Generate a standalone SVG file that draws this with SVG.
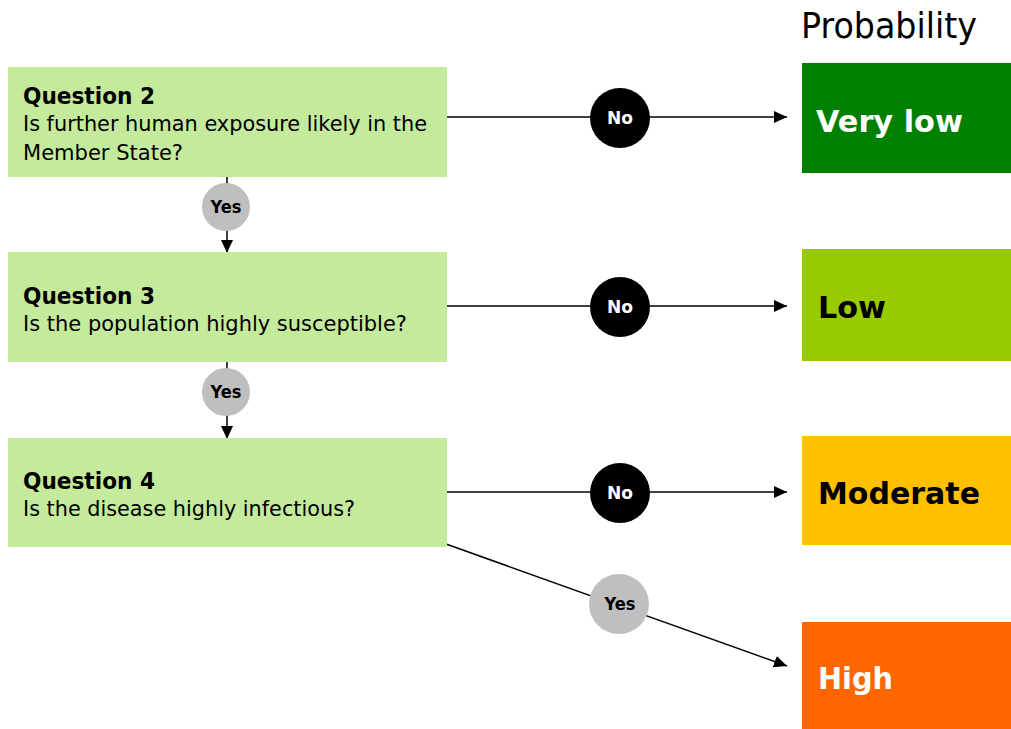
<svg xmlns="http://www.w3.org/2000/svg" width="1011" height="729" viewBox="0 0 1011 729">
<style>
.q{fill:#C4EA9C}
.t{font-family:"DejaVu Sans",Verdana,sans-serif;font-size:22px;fill:#000}
.b{font-family:"DejaVu Sans",Verdana,sans-serif;font-weight:bold;fill:#000}
.out{font-family:"DejaVu Sans",Verdana,sans-serif;font-weight:bold;font-size:31px}
.ln{stroke:#000;stroke-width:1.5;fill:none;marker-end:url(#ah)}
.lbl{font-family:"DejaVu Sans",Verdana,sans-serif;font-weight:bold;font-size:17px;text-anchor:middle}
</style>
<defs>
<marker id="ah" markerUnits="userSpaceOnUse" markerWidth="14" markerHeight="13" refX="13" refY="6" orient="auto">
<path d="M0,0 L13,6 L0,12 z" fill="#000"/>
</marker>
</defs>
<rect width="1011" height="729" fill="#fff"/>
<text x="801" y="38" font-family="'DejaVu Sans',Verdana,sans-serif" font-size="35" fill="#000" textLength="176" lengthAdjust="spacingAndGlyphs">Probability</text>

<g id="connectors">
<line class="ln" x1="446" y1="117" x2="787" y2="117"/>
<line class="ln" x1="446" y1="306" x2="787" y2="306"/>
<line class="ln" x1="446" y1="492" x2="787" y2="492"/>
<line class="ln" x1="227" y1="177" x2="227" y2="253"/>
<line class="ln" x1="227" y1="362" x2="227" y2="439"/>
<line class="ln" x1="446" y1="544" x2="787" y2="666"/>
<g id="no1"><circle cx="620" cy="118" r="30" fill="#000"/><text class="lbl" x="620" y="124" fill="#fff" textLength="26" lengthAdjust="spacingAndGlyphs">No</text></g>
<g id="no2"><circle cx="620" cy="307" r="30" fill="#000"/><text class="lbl" x="620" y="313" fill="#fff" textLength="26" lengthAdjust="spacingAndGlyphs">No</text></g>
<g id="no3"><circle cx="620" cy="493" r="30" fill="#000"/><text class="lbl" x="620" y="499" fill="#fff" textLength="26" lengthAdjust="spacingAndGlyphs">No</text></g>
<g id="yes1"><circle cx="226" cy="207" r="24" fill="#BFBFBF"/><text class="lbl" x="226" y="213" fill="#000" textLength="31" lengthAdjust="spacingAndGlyphs">Yes</text></g>
<g id="yes2"><circle cx="226" cy="392" r="24" fill="#BFBFBF"/><text class="lbl" x="226" y="398" fill="#000" textLength="31" lengthAdjust="spacingAndGlyphs">Yes</text></g>
<g id="yes3"><circle cx="619" cy="604" r="30" fill="#BFBFBF"/><text class="lbl" x="620" y="610" fill="#000" textLength="31" lengthAdjust="spacingAndGlyphs">Yes</text></g>
</g>

<g id="q2">
<rect class="q" x="8" y="67" width="439" height="110"/>
<text class="b" x="23" y="104" font-size="23" textLength="132" lengthAdjust="spacingAndGlyphs">Question 2</text>
<text class="t" x="23" y="131" textLength="404" lengthAdjust="spacingAndGlyphs">Is further human exposure likely in the</text>
<text class="t" x="23" y="160" textLength="160" lengthAdjust="spacingAndGlyphs">Member State?</text>
</g>
<g id="q3">
<rect class="q" x="8" y="252" width="439" height="110"/>
<text class="b" x="23" y="304" font-size="23" textLength="132" lengthAdjust="spacingAndGlyphs">Question 3</text>
<text class="t" x="23" y="331" textLength="384" lengthAdjust="spacingAndGlyphs">Is the population highly susceptible?</text>
</g>
<g id="q4">
<rect class="q" x="8" y="438" width="439" height="109"/>
<text class="b" x="23" y="489" font-size="23" textLength="132" lengthAdjust="spacingAndGlyphs">Question 4</text>
<text class="t" x="23" y="516" textLength="332" lengthAdjust="spacingAndGlyphs">Is the disease highly  infectious?</text>
</g>

<g id="verylow">
<rect x="802" y="63" width="209" height="110" fill="#008000"/>
<text class="out" x="816" y="132" fill="#fff" textLength="147" lengthAdjust="spacingAndGlyphs">Very low</text>
</g>
<g id="low">
<rect x="802" y="249" width="209" height="112" fill="#99CC00"/>
<text class="out" x="818" y="318" fill="#000" textLength="68" lengthAdjust="spacingAndGlyphs">Low</text>
</g>
<g id="moderate">
<rect x="802" y="436" width="209" height="109" fill="#FFC000"/>
<text class="out" x="818" y="504" fill="#000" textLength="162" lengthAdjust="spacingAndGlyphs">Moderate</text>
</g>
<g id="high">
<rect x="802" y="622" width="209" height="107" fill="#FF6600"/>
<text class="out" x="818" y="689" fill="#fff" textLength="75" lengthAdjust="spacingAndGlyphs">High</text>
</g>
</svg>
